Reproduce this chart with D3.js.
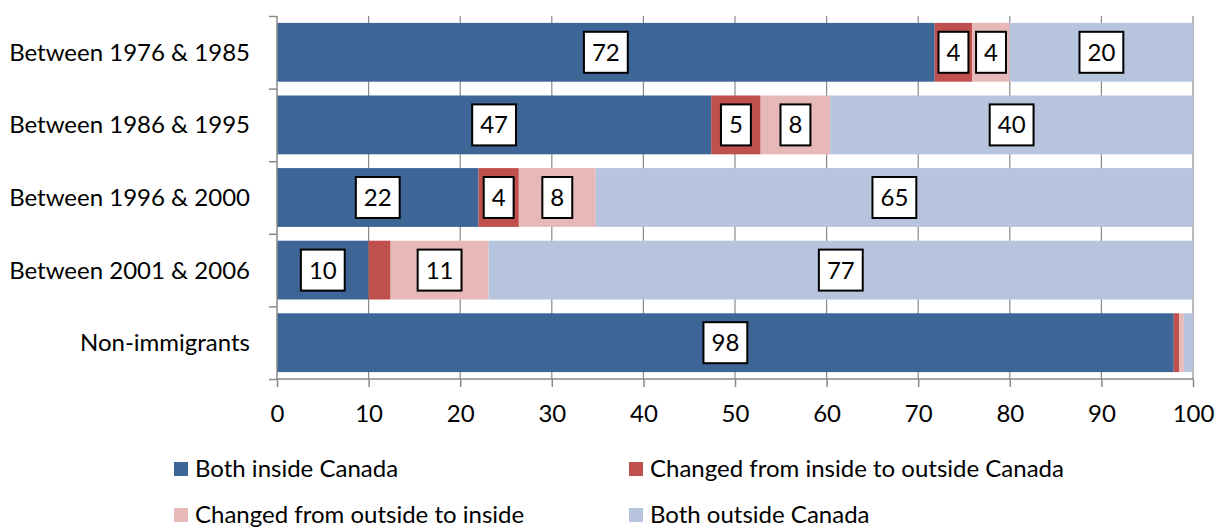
<!DOCTYPE html>
<html>
<head>
<meta charset="utf-8">
<script src="https://cdn.jsdelivr.net/npm/d3@7"></script>
<style>
  body { margin: 0; background: #fff; }
  text { font-family: Lato, "Open Sans", sans-serif; fill: #000; }
</style>
</head>
<body>
<div id="chart"></div>
<script>
// categories, top to bottom
var categories = ["Between 1976 & 1985", "Between 1986 & 1995", "Between 1996 & 2000", "Between 2001 & 2006", "Non-immigrants"];
var seriesNames = ["Both inside Canada", "Changed from inside to outside Canada", "Changed from outside to inside", "Both outside Canada"];
var colors = ["#3d6596", "#c0504d", "#e6b9b8", "#b7c4de"];

// percent values per series (one entry per category)
var bothInside    = [71.8, 47.4, 22.0, 10.0, 97.9];
var insideToOut   = [4.1, 5.4, 4.4, 2.4, 0.6];
var outsideToIn   = [4.1, 7.6, 8.4, 10.7, 0.5];
var bothOutside   = [20.0, 39.6, 65.2, 76.9, 1.0];
// which labels are shown (Excel hid the small ones)
var showLabel = [
  [true, true, true, true],
  [true, true, true, true],
  [true, true, true, true],
  [true, false, true, true],
  [true, false, false, false]
];
var xTicks = [0, 10, 20, 30, 40, 50, 60, 70, 80, 90, 100];

var W = 1217, H = 528;
var fontSize = "24px";
var svg = d3.select("#chart").append("svg")
    .attr("width", W).attr("height", H);

var x = d3.scaleLinear().domain([0, 100]).range([277, 1193]);
var y = d3.scaleBand().domain(categories).range([16, 379])
    .paddingInner(0.19).paddingOuter(0.095);

var series = [bothInside, insideToOut, outsideToIn, bothOutside];
var rows = categories.map(function(c, i) {
  var r = { cat: c };
  seriesNames.forEach(function(s, j) { r[s] = series[j][i]; });
  return r;
});
var stacked = d3.stack().keys(seriesNames)(rows);

// vertical gridlines
svg.append("g")
  .selectAll("line")
  .data(xTicks.slice(1))
  .enter().append("line")
    .attr("x1", function(d) { return x(d); })
    .attr("x2", function(d) { return x(d); })
    .attr("y1", y.range()[0])
    .attr("y2", y.range()[1])
    .attr("stroke", "#8a8a8a")
    .attr("stroke-width", 1.2);

// bars
var layers = svg.append("g").selectAll("g")
  .data(stacked)
  .enter().append("g")
    .attr("fill", function(d, i) { return colors[i]; });

layers.selectAll("rect")
  .data(function(d) { return d; })
  .enter().append("rect")
    .attr("x", function(d) { return x(d[0]); })
    .attr("width", function(d) { return x(d[1]) - x(d[0]); })
    .attr("y", function(d) { return y(d.data.cat); })
    .attr("height", y.bandwidth());

// left axis: ticks at category boundaries
var yb = d3.scaleLinear().domain([0, categories.length]).range(y.range());
svg.append("g")
  .attr("transform", "translate(" + x(0) + ",0)")
  .call(d3.axisLeft(yb).ticks(categories.length).tickSize(8).tickFormat(""))
  .call(function(g) {
    g.selectAll("path, line").attr("stroke", "#8a8a8a").attr("stroke-width", 1.5);
    g.select(".domain").attr("d", "M0," + y.range()[0] + "V" + y.range()[1]);
  });

// category labels
svg.append("g").selectAll("text")
  .data(categories)
  .enter().append("text")
    .attr("x", 250)
    .attr("y", function(d) { return y(d) + y.bandwidth() / 2; })
    .attr("dy", "0.35em")
    .attr("text-anchor", "end")
    .style("font-size", fontSize)
    .text(function(d) { return d; });

// bottom axis
svg.append("g")
  .attr("transform", "translate(0," + y.range()[1] + ")")
  .call(d3.axisBottom(x).tickValues(xTicks).tickSize(8).tickPadding(18))
  .call(function(g) {
    g.selectAll("path, line").attr("stroke", "#8a8a8a").attr("stroke-width", 1.5);
    g.select(".domain").attr("d", "M" + x(0) + ",0H" + x(100));
    g.selectAll("text").style("font-size", fontSize).attr("font-family", null).attr("fill", "#000");
  });

// data labels in boxed callouts
layers.each(function(layer, j) {
  var g = d3.select(this);
  layer.forEach(function(d, i) {
    if (!showLabel[i][j]) return;
    var cx = x((d[0] + d[1]) / 2);
    var cy = y(d.data.cat) + y.bandwidth() / 2;
    var lg = g.append("g").attr("transform", "translate(" + cx + "," + cy + ")");
    var box = lg.append("rect").attr("fill", "#fff").attr("stroke", "#000").attr("stroke-width", 2);
    var t = lg.append("text")
      .attr("text-anchor", "middle")
      .attr("dy", "0.35em")
      .style("font-size", fontSize)
      .text(Math.round(d[1] - d[0]));
    var w = t.node().getComputedTextLength() + 16;
    box.attr("x", -w / 2).attr("y", -20.5).attr("width", w).attr("height", 41);
  });
});

// legend
var legendPos = [[174, 469], [629, 469], [174, 515], [629, 515]];
var legend = svg.append("g").selectAll("g")
  .data(seriesNames)
  .enter().append("g")
    .attr("transform", function(d, i) { return "translate(" + legendPos[i][0] + "," + legendPos[i][1] + ")"; });
legend.append("rect")
  .attr("x", 0).attr("y", -7).attr("width", 14).attr("height", 14)
  .attr("fill", function(d, i) { return colors[i]; });
legend.append("text")
  .attr("x", 21).attr("dy", "0.35em")
  .style("font-size", fontSize)
  .text(function(d) { return d; });
</script>
</body>
</html>
